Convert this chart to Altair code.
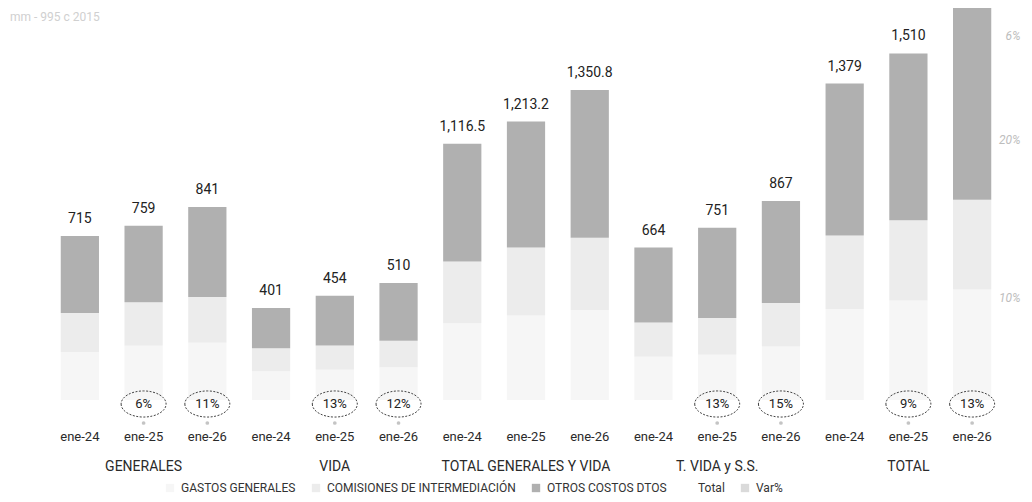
import altair as alt
import pandas as pd

FONT = "Roboto, Liberation Sans, sans-serif"

groups = ["GENERALES", "VIDA", "TOTAL GENERALES Y VIDA", "T. VIDA y S.S.", "TOTAL"]
periods = ["ene-24", "ene-25", "ene-26"]

series_names = ["GASTOS GENERALES", "COMISIONES DE INTERMEDIACIÓN", "OTROS COSTOS DTOS", "Total", "Var%"]
series_colors = ["#f6f6f6", "#ececec", "#b0b0b0", "#ffffff", "#dadada"]

gastos = [209, 236, 249, 125, 132, 143, 334, 368, 392, 188, 197, 233, 397, 433, 482]
comisiones = [170, 190, 200, 100, 106, 115, 270, 296, 315, 150, 160, 190, 320, 350, 390]
otros = [336, 333, 392, 176, 216, 252, 512, 549, 644, 326, 394, 444, 662, 727, 836]
totals = [715, 759, 841, 401, 454, 510, 1116.5, 1213.2, 1350.8, 664, 751, 867, 1379, 1510, 1708]
# the last total label lies above the top edge of the original and is not visible there
total_labels = ["715", "759", "841", "401", "454", "510", "1,116.5", "1,213.2", "1,350.8",
                "664", "751", "867", "1,379", "1,510", ""]
var_labels = ["", "6%", "11%", "", "13%", "12%", "", "", "", "", "13%", "15%", "", "9%", "13%"]

right_axis_values = [0.10, 0.20, 0.266]
right_axis_labels = ["10%", "20%", "6%"]

note_text = "mm - 995 c 2015"

keys = [f"{g}|{p}" for g in groups for p in periods]
Y_MAX = 1708

rows = []
for i, k in enumerate(keys):
    for order, (name, vals) in enumerate(zip(series_names[:3], [gastos, comisiones, otros])):
        rows.append({"key": k, "serie": name, "valor": vals[i], "orden": order})
df_bars = pd.DataFrame(rows)
df_tot = pd.DataFrame({"key": keys, "total": totals, "label": total_labels})
df_tot = df_tot[df_tot["label"] != ""]
df_var = pd.DataFrame({"key": keys, "var": var_labels})
df_var = df_var[df_var["var"] != ""]
df_groups = pd.DataFrame({"key": [f"{g}|{periods[1]}" for g in groups], "grupo": groups})
df_pct = pd.DataFrame({"v": right_axis_values})
df_note = pd.DataFrame({"t": [note_text]})

label_expr = " : ".join(
    [f"abs(datum.value - {v}) < 0.01 ? '{l}'" for v, l in zip(right_axis_values, right_axis_labels)]
) + " : ''"

x_enc = alt.X(
    "key:N", sort=keys,
    scale=alt.Scale(paddingInner=0.4, paddingOuter=0.2),
    axis=alt.Axis(title=None, labelExpr="split(datum.label, '|')[1]", domain=False, ticks=False,
                  labelAngle=0, labelFontSize=13, labelColor="#2a2a2a", labelPadding=30,
                  labelFont=FONT),
)
y_scale = alt.Scale(domain=[0, Y_MAX], nice=False, zero=True)

bars = alt.Chart(df_bars).mark_bar().encode(
    x=x_enc,
    y=alt.Y("valor:Q", stack=True, scale=y_scale, axis=None),
    color=alt.Color(
        "serie:N",
        scale=alt.Scale(domain=series_names, range=series_colors),
        legend=alt.Legend(orient="none", legendX=116, legendY=474, direction="horizontal",
                          title=None, symbolType="square", symbolSize=70, symbolStrokeWidth=0,
                          labelFontSize=12, labelColor="#333333", labelFont=FONT,
                          columnPadding=14, labelOffset=5, labelLimit=0),
    ),
    order=alt.Order("orden:Q"),
)

tot_text = alt.Chart(df_tot).mark_text(
    baseline="bottom", dy=-10, fontSize=14, color="#222222", font=FONT
).encode(
    x=alt.X("key:N", sort=keys),
    y=alt.Y("total:Q", scale=y_scale, axis=None),
    text="label:N",
)

ellipse_path = "M -1 0 A 1 0.58 0 1 0 1 0 A 1 0.58 0 1 0 -1 0 Z"
ellipses = alt.Chart(df_var).mark_point(
    shape=ellipse_path, size=2025, filled=False, stroke="#444444", strokeWidth=1,
    strokeDash=[2, 1.5], opacity=1
).encode(x=alt.X("key:N", sort=keys), y=alt.value(396))

var_text = alt.Chart(df_var).mark_text(fontSize=13, color="#222222", font=FONT).encode(
    x=alt.X("key:N", sort=keys), y=alt.value(396), text="var:N"
)

dots = alt.Chart(df_var).mark_point(shape="circle", filled=True, size=14, color="#c4c4c4", opacity=1).encode(
    x=alt.X("key:N", sort=keys), y=alt.value(415)
)

group_text = alt.Chart(df_groups).mark_text(fontSize=14, color="#2a2a2a", font=FONT).encode(
    x=alt.X("key:N", sort=keys), y=alt.value(459), text="grupo:N"
)

note = alt.Chart(df_note).mark_text(align="left", fontSize=12, color="#d0d0d0", font=FONT).encode(
    x=alt.value(-38), y=alt.value(9), text="t:N"
)

pct_axis = alt.Chart(df_pct).mark_rule(opacity=0).encode(
    y=alt.Y("v:Q", scale=alt.Scale(domain=[0.0354, 0.2835], nice=False, zero=False),
            axis=alt.Axis(orient="right", values=right_axis_values, labelExpr=label_expr,
                          domain=False, ticks=False, grid=False, title=None,
                          labelColor="#bdbdbd", labelFontStyle="italic", labelFontSize=12,
                          labelAlign="right", labelPadding=16, labelFont=FONT))
)

main = alt.layer(bars, tot_text, ellipses, var_text, dots, group_text, note)
chart = alt.layer(main, pct_axis).resolve_scale(y="independent").properties(
    width=956, height=392,
    autosize=alt.AutoSizeParams(type="none"),
    padding={"left": 40, "top": 0, "right": 20, "bottom": 94},
).configure_view(stroke=None)

chart.save("out.html", embed_options={"renderer": "svg", "actions": False})
